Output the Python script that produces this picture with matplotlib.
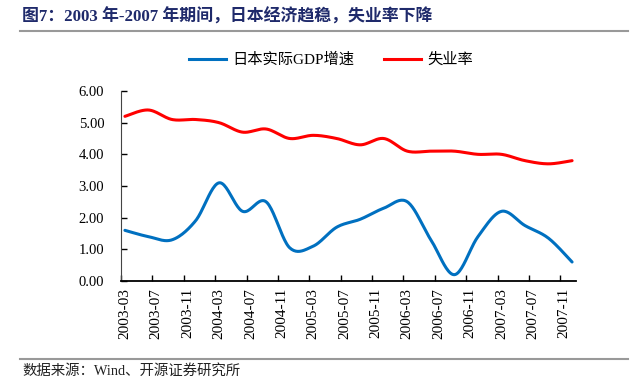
import numpy as np
import matplotlib
matplotlib.use('Agg')
import matplotlib.pyplot as plt
from matplotlib.lines import Line2D

# Quarterly series (Excel category axis is monthly, 2003-03 .. 2007-12)
quarters = ['2003-03', '2003-06', '2003-09', '2003-12', '2004-03', '2004-06', '2004-09', '2004-12',
            '2005-03', '2005-06', '2005-09', '2005-12', '2006-03', '2006-06', '2006-09', '2006-12',
            '2007-03', '2007-06', '2007-09', '2007-12']
gdp_growth = [1.6, 1.4, 1.3, 1.9, 3.1, 2.2, 2.5, 1.05, 1.1, 1.7,
              1.95, 2.3, 2.5, 1.3, 0.2, 1.4, 2.2, 1.75, 1.35, 0.6]
unemployment = [5.2, 5.4, 5.1, 5.1, 5.0, 4.7, 4.8, 4.5, 4.6, 4.5,
                4.3, 4.5, 4.1, 4.1, 4.1, 4.0, 4.0, 3.8, 3.7, 3.8]
tick_labels = ['2003-03', '2003-07', '2003-11', '2004-03', '2004-07', '2004-11', '2005-03', '2005-07',
               '2005-11', '2006-03', '2006-07', '2006-11', '2007-03', '2007-07', '2007-11']
n_months = 58

title = '图7：2003 年-2007 年期间，日本经济趋稳，失业率下降'
source = '数据来源：Wind、开源证券研究所'
series_names = ['日本实际GDP增速', '失业率']

CJK = ['Liberation Serif', 'Noto Sans CJK SC']


def month_idx(s):
    y, m = s.split('-')
    return (int(y) - 2003) * 12 + int(m) - 3


def smooth(x, y, n=24):
    # Excel-style smoothed line (Catmull-Rom bezier through points)
    x = np.asarray(x, float)
    y = np.asarray(y, float)
    P = np.column_stack([x, y])
    P = np.vstack([P[0], P, P[-1]])
    out = []
    t = np.linspace(0, 1, n)[:, None]
    for i in range(1, len(P) - 2):
        p0, p1, p2, p3 = P[i - 1], P[i], P[i + 1], P[i + 2]
        c1 = p1 + (p2 - p0) / 6
        c2 = p2 - (p3 - p1) / 6
        seg = ((1 - t) ** 3) * p1 + 3 * ((1 - t) ** 2) * t * c1 + 3 * (1 - t) * t ** 2 * c2 + t ** 3 * p2
        out.append(seg if i == 1 else seg[1:])
    out = np.vstack(out)
    return out[:, 0], out[:, 1]


qx = [month_idx(q) for q in quarters]

fig = plt.figure(figsize=(6.43, 3.91), dpi=100)
ax = fig.add_axes([121 / 643, 1 - 281 / 391, 455 / 643, 190 / 391])

gx, gy = smooth(qx, gdp_growth)
ux, uy = smooth(qx, unemployment)
ax.plot(gx, gy, color='#0070C0', lw=2.2, solid_capstyle='round')
ax.plot(ux, uy, color='#FF0000', lw=2.2, solid_capstyle='round')

ax.set_xlim(-0.5, n_months - 0.5)
ax.set_ylim(0, 6)
ax.set_yticks(np.arange(0, 7, 1))
ax.set_yticklabels(['%.2f' % v for v in np.arange(0, 7, 1)], family='Liberation Serif', fontsize=10.5)

label_pos = [month_idx(t) for t in tick_labels]
ax.set_xticks([p - 0.5 for p in label_pos])
ax.set_xticklabels([])
ax.set_xticks(label_pos, minor=True)
ax.set_xticklabels(tick_labels, minor=True, rotation=90, family='Liberation Serif', fontsize=11)
ax.tick_params(axis='x', which='major', direction='in', length=4, width=1)
ax.tick_params(axis='x', which='minor', length=0, pad=5)
ax.tick_params(axis='y', direction='in', length=4, width=1, pad=12)

for s in ['top', 'right']:
    ax.spines[s].set_visible(False)
ax.spines['left'].set_color('#444444')
ax.spines['bottom'].set_linewidth(1.3)

handles = [Line2D([], [], color='#0070C0', lw=2.2), Line2D([], [], color='#FF0000', lw=2.2)]
fig.legend(handles, series_names, loc='center', bbox_to_anchor=(331 / 643, 1 - 60 / 391), ncol=2,
           frameon=False, handlelength=2.4, columnspacing=2.0, handletextpad=0.4,
           prop={'family': CJK, 'size': 11})

fig.text(22 / 643, 1 - 16.5 / 391, title, ha='left', va='center', color='#1F2A6B',
         fontsize=12.2, fontweight='bold', family=CJK)
fig.add_artist(Line2D([20 / 643, 628 / 643], [1 - 31 / 391] * 2, color='#999999', lw=1.5))
fig.add_artist(Line2D([20 / 643, 628 / 643], [1 - 359 / 391] * 2, color='#999999', lw=1.5))
fig.text(22 / 643, 1 - 371 / 391, source, ha='left', va='center', color='#222222',
         fontsize=10.4, family=CJK)

fig.savefig('out.png', dpi=100)
